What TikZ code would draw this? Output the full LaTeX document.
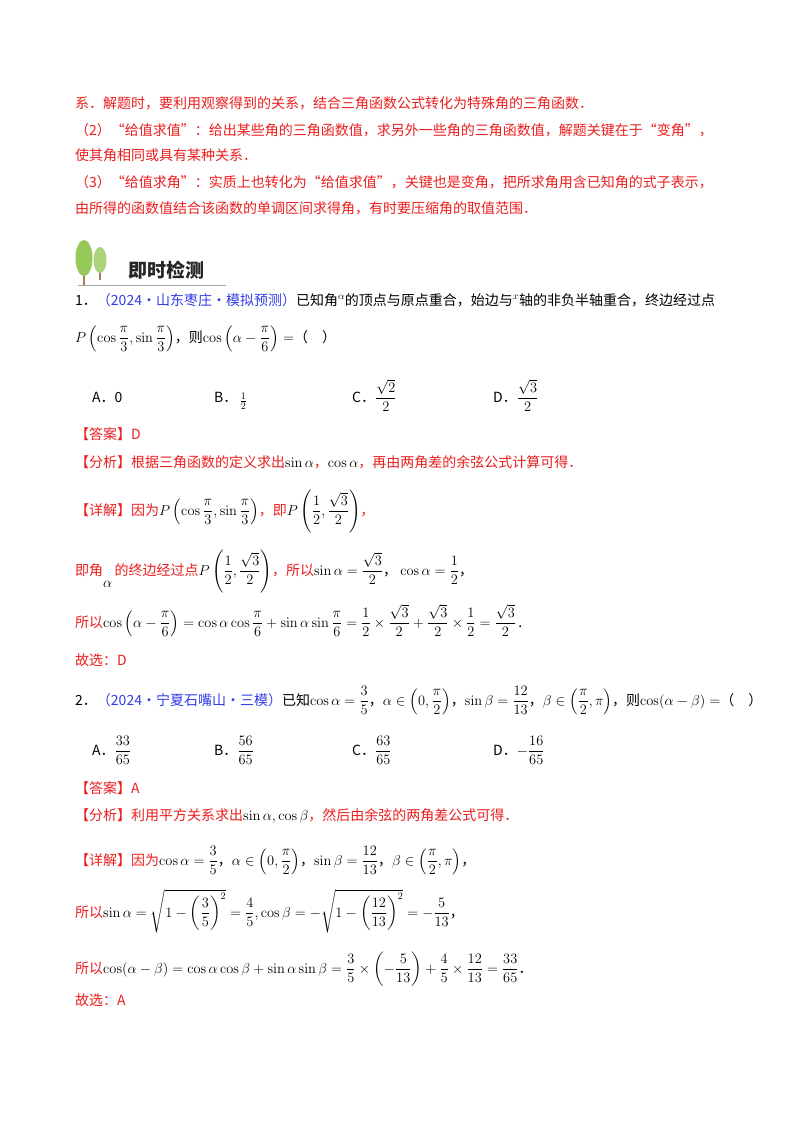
\documentclass[tikz,border=0pt]{standalone}
\usepackage{amsmath}
\usepackage[no-math]{fontspec}
\setmainfont{Noto Sans CJK SC}
\usetikzlibrary{shapes.geometric}
\definecolor{rd}{RGB}{235,30,30}
\definecolor{bl}{RGB}{50,60,230}
\definecolor{lg}{RGB}{150,200,90}
\definecolor{tr}{RGB}{170,120,90}
\newcommand\R[1]{\textcolor{rd}{#1}}
\newcommand\B[1]{\textcolor{bl}{#1}}
\begin{document}
\begin{tikzpicture}[x=1pt,y=-1pt,
  t/.style={anchor=base west,inner sep=0pt,font=\fontsize{14}{16}\selectfont}]
\useasboundingbox[fill=white] (0,0) rectangle (800,1132);
\node[t] (l1) at (75,108) {\R{系．解题时，要利用观察得到的关系，结合三角函数公式转化为特殊角的三角函数．}};
\node[t] (l2) at (75,135) {\R{（2）“给值求值”：给出某些角的三角函数值，求另外一些角的三角函数值，解题关键在于“变角”，}};
\node[t] (l3) at (75,160) {\R{使其角相同或具有某种关系．}};
\node[t] (l4) at (75,187) {\R{（3）“给值求角”：实质上也转化为“给值求值”，关键也是变角，把所求角用含已知角的式子表示，}};
\node[t] (l5) at (75,213) {\R{由所得的函数值结合该函数的单调区间求得角，有时要压缩角的取值范围．}};
% header icon
\draw[tr,line width=1.5pt] (84,285) -- (84,262);
\draw[tr,line width=1.2pt] (100,280) -- (100,262);
\node[ellipse,fill=lg,minimum width=17,minimum height=36,inner sep=0pt] (e1) at (84,258) {};
\node[ellipse,fill=lg!80!white,minimum width=13,minimum height=26,inner sep=0pt] (e2) at (100,260) {};
\draw[gray!70,line width=0.8pt] (78,285) -- (226,285);
\node[anchor=base west,inner sep=0pt,font=\fontsize{19}{20}\selectfont\bfseries,text=black!85] (hd) at (128,277) {即时检测};
% Q1
\node[t] (q1) at (75,305) {1．\B{（2024·山东枣庄·模拟预测）}已知角$^{\alpha}$的顶点与原点重合，始边与$^{x}$轴的非负半轴重合，终边经过点};
\node[t] (q1b) at (75,342) {$P\left(\cos\dfrac{\mathrm{\pi}}{3},\sin\dfrac{\pi}{3}\right)$，则$\cos\left(\alpha-\dfrac{\pi}{6}\right)=$（\quad）};
\node[t] (a1) at (92,402) {A．0};
\node[t] (b1) at (214,402) {B．\,\raisebox{-3pt}{$\frac{1}{2}$}};
\node[t] (c1) at (352,402) {C．$\dfrac{\sqrt2}{2}$};
\node[t] (d1) at (493,402) {D．$\dfrac{\sqrt3}{2}$};
\node[t] (ans1) at (75,439) {\R{【答案】D}};
\node[t] (an1) at (75,467) {\R{【分析】根据三角函数的定义求出}$\sin\alpha$\R{，}$\cos\alpha$\R{，再由两角差的余弦公式计算可得．}};
\node[t] (xj1) at (75,515) {\R{【详解】因为}$P\left(\cos\dfrac{\pi}{3},\sin\dfrac{\pi}{3}\right)$\R{，即}$P\left(\dfrac12,\dfrac{\sqrt3}{2}\right)$\R{，}};
\node[t] (s1) at (75,575) {\R{即角}\raisebox{-12pt}{$\alpha$}\,\R{的终边经过点}$P\left(\dfrac12,\dfrac{\sqrt3}{2}\right)$\R{，所以}$\sin\alpha=\dfrac{\sqrt3}{2}$，\ $\cos\alpha=\dfrac12$，};
\node[t] (s2) at (75,627) {\R{所以}$\cos\left(\alpha-\dfrac{\pi}{6}\right)=\cos\alpha\cos\dfrac{\pi}{6}+\sin\alpha\sin\dfrac{\pi}{6}=\dfrac12\times\dfrac{\sqrt3}{2}+\dfrac{\sqrt3}{2}\times\dfrac12=\dfrac{\sqrt3}{2}$\,.};
\node[t] (g1) at (75,665) {\R{故选：D}};
% Q2
\node[t] (q2) at (75,705) {2．\B{（2024·宁夏石嘴山·三模）}已知$\cos\alpha=\dfrac35$，$\alpha\in\left(0,\dfrac{\pi}{2}\right)$，$\sin\beta=\dfrac{12}{13}$，$\beta\in\left(\dfrac{\pi}{2},\pi\right)$，则$\cos(\alpha-\beta)=$（\quad）};
\node[t] (a2) at (92,755) {A．$\dfrac{33}{65}$};
\node[t] (b2) at (214,755) {B．$\dfrac{56}{65}$};
\node[t] (c2) at (352,755) {C．$\dfrac{63}{65}$};
\node[t] (d2) at (493,755) {D．$-\dfrac{16}{65}$};
\node[t] (ans2) at (75,793) {\R{【答案】A}};
\node[t] (an2) at (75,820) {\R{【分析】利用平方关系求出}$\sin\alpha,\cos\beta$\R{，然后由余弦的两角差公式可得．}};
\node[t] (xj2) at (75,865) {\R{【详解】因为}$\cos\alpha=\dfrac35$，$\alpha\in\left(0,\dfrac{\pi}{2}\right)$，$\sin\beta=\dfrac{12}{13}$，$\beta\in\left(\dfrac{\pi}{2},\pi\right)$，};
\node[t] (s3) at (75,917) {\R{所以}$\sin\alpha=\sqrt{1-\left(\dfrac35\right)^2}=\dfrac45,\cos\beta=-\sqrt{1-\left(\dfrac{12}{13}\right)^2}=-\dfrac{5}{13}$，};
\node[t] (s4) at (75,973) {\R{所以}$\cos(\alpha-\beta)=\cos\alpha\cos\beta+\sin\alpha\sin\beta=\dfrac35\times\left(-\dfrac{5}{13}\right)+\dfrac45\times\dfrac{12}{13}=\dfrac{33}{65}$．};
\node[t] (g2) at (75,1005) {\R{故选：A}};
\end{tikzpicture}
\end{document}
